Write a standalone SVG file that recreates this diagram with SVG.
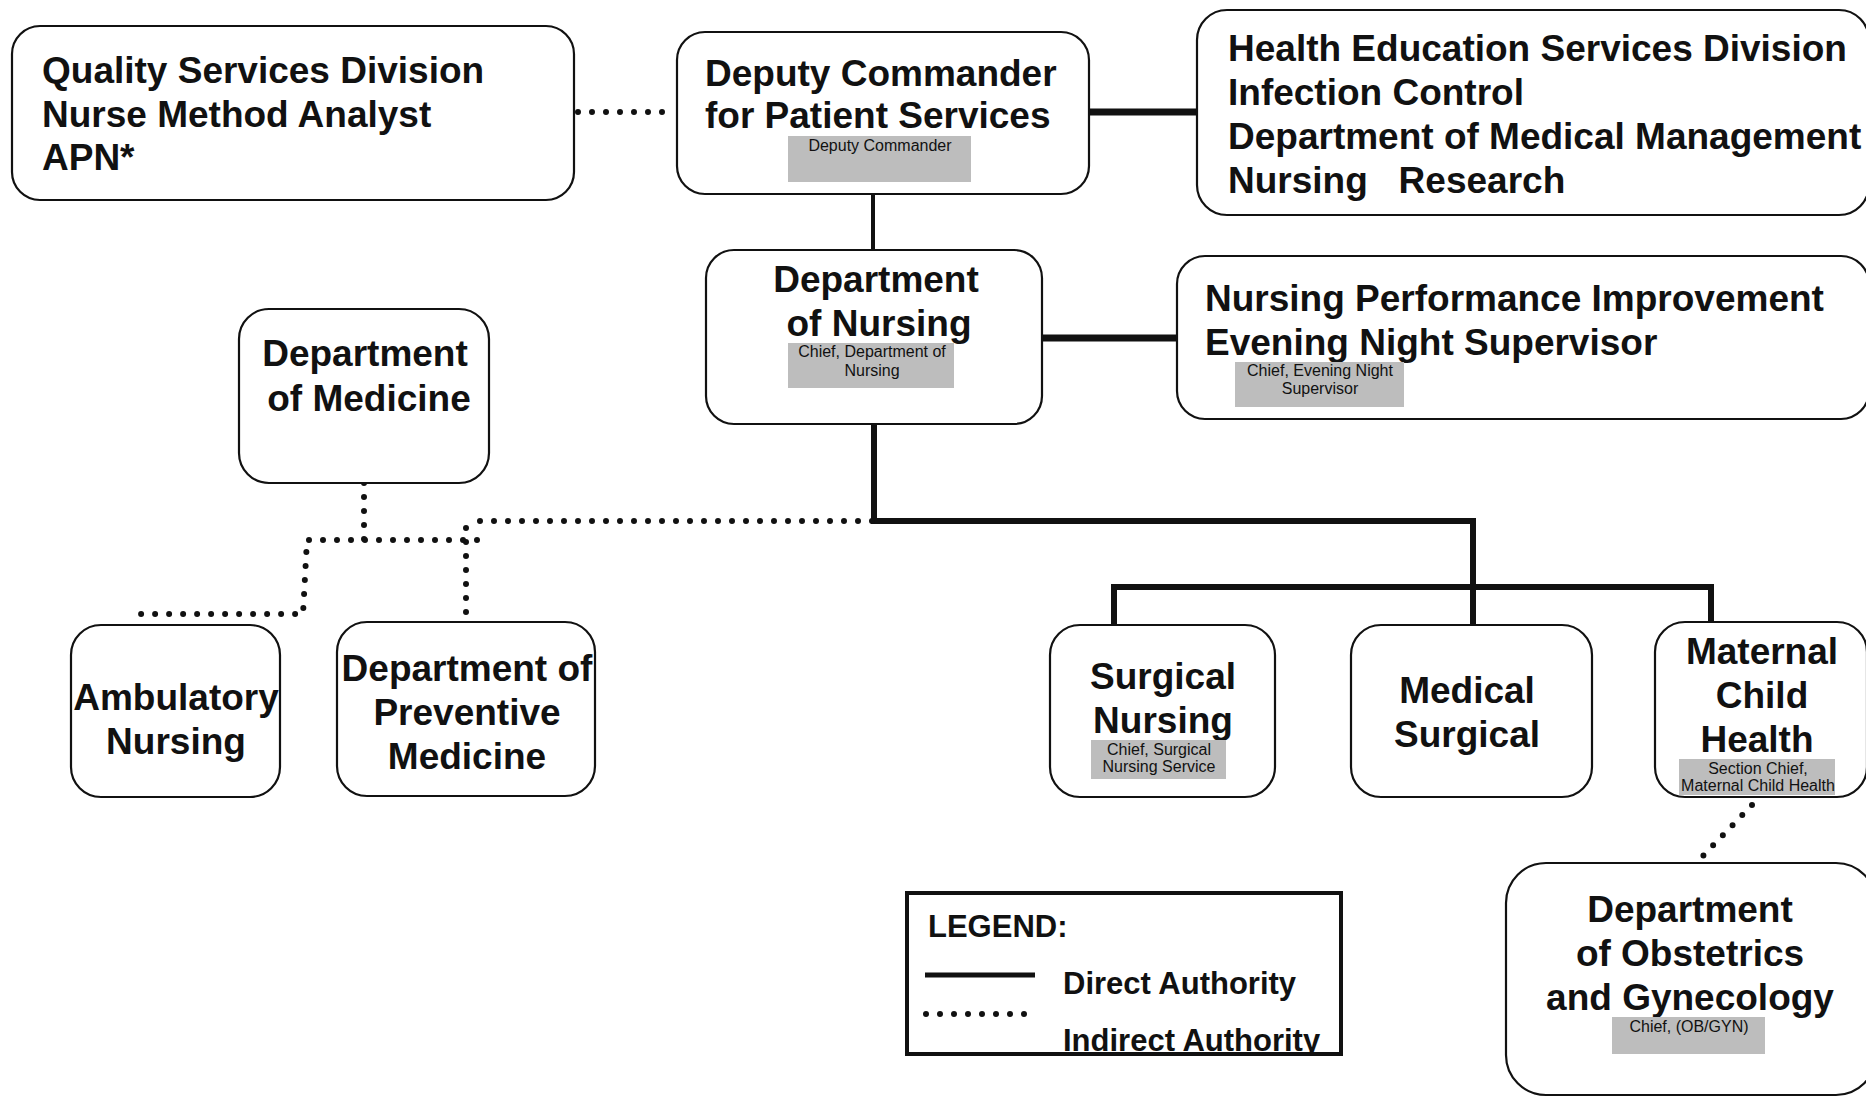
<svg xmlns="http://www.w3.org/2000/svg" width="1866" height="1098" viewBox="0 0 1866 1098">
<style>
  .box { fill: #ffffff; stroke: #111; stroke-width: 2.2; }
  .t { font-family: "Liberation Sans", Arial, sans-serif; font-weight: bold; font-size: 37px; fill: #111; }
  .c { text-anchor: middle; }
  .g { fill: #bdbdbd; }
  .s { font-family: "Liberation Sans", Arial, sans-serif; font-size: 16px; fill: #111; text-anchor: middle; }
  .solid { fill: none; stroke: #111; stroke-linecap: butt; stroke-linejoin: miter; }
  .dot { fill: none; stroke: #111; stroke-width: 6; stroke-linecap: round; stroke-dasharray: 0 14; }
  .lt { font-family: "Liberation Sans", Arial, sans-serif; font-weight: bold; font-size: 31px; fill: #111; }
</style>
<defs>
  <clipPath id="legclip"><rect x="907" y="893" width="434" height="159"/></clipPath>
</defs>
<rect width="1866" height="1098" fill="#ffffff"/>

<g id="connectors">
  <path class="solid" stroke-width="7" d="M1089 112 H1197"/>
  <path class="solid" stroke-width="4" d="M873 194 V250"/>
  <path class="solid" stroke-width="7" d="M1042 338 H1177"/>
  <path class="solid" stroke-width="6" d="M874 424 V521 H1473 V625"/>
  <path class="solid" stroke-width="6" d="M1114 625 V587 H1711 V622"/>
  <path class="dot" stroke-width="3.5" stroke-dasharray="0 7" d="M578 112 H675"/>
  <path class="dot" d="M872 521 H470"/>
  <path class="dot" d="M466 528 V622"/>
  <path class="dot" d="M364 483 V540"/>
  <path class="dot" d="M477 540 H307 L303 614 H137"/>
  <path class="dot" d="M1752 805 L1698 861"/>
</g>

<g id="quality">
  <rect class="box" x="12" y="26" width="562" height="174" rx="28"/>
  <text class="t" x="42" y="83">Quality Services Division</text>
  <text class="t" x="42" y="127">Nurse Method Analyst</text>
  <text class="t" x="42" y="170">APN*</text>
</g>

<g id="deputy">
  <rect class="box" x="677" y="32" width="412" height="162" rx="28"/>
  <text class="t" x="705" y="86">Deputy Commander</text>
  <text class="t" x="705" y="128">for Patient Services</text>
  <rect class="g" x="788" y="136" width="183" height="46"/>
  <text class="s" x="880" y="151" font-size="18">Deputy Commander</text>
</g>

<g id="health">
  <rect class="box" x="1197" y="10" width="672" height="205" rx="30"/>
  <text class="t" x="1228" y="61">Health Education Services Division</text>
  <text class="t" x="1228" y="105">Infection Control</text>
  <text class="t" x="1228" y="149">Department of Medical Management</text>
  <text class="t" x="1228" y="193" xml:space="preserve">Nursing   Research</text>
</g>

<g id="nursing">
  <rect class="box" x="706" y="250" width="336" height="174" rx="28"/>
  <text class="t c" x="876" y="292">Department</text>
  <text class="t c" x="879" y="336">of Nursing</text>
  <rect class="g" x="788" y="343" width="166" height="45"/>
  <text class="s" x="872" y="357">Chief, Department of</text>
  <text class="s" x="872" y="376">Nursing</text>
</g>

<g id="performance">
  <rect class="box" x="1177" y="256" width="692" height="163" rx="28"/>
  <text class="t" x="1205" y="311">Nursing Performance Improvement</text>
  <text class="t" x="1205" y="355">Evening Night Supervisor</text>
  <rect class="g" x="1235" y="362" width="169" height="45"/>
  <text class="s" x="1320" y="376">Chief, Evening Night</text>
  <text class="s" x="1320" y="394">Supervisor</text>
</g>

<g id="medicine">
  <rect class="box" x="239" y="309" width="250" height="174" rx="30"/>
  <text class="t c" x="365" y="366">Department</text>
  <text class="t c" x="369" y="411">of Medicine</text>
</g>

<g id="ambulatory">
  <rect class="box" x="71" y="625" width="209" height="172" rx="30"/>
  <text class="t c" x="176" y="710">Ambulatory</text>
  <text class="t c" x="176" y="754">Nursing</text>
</g>

<g id="preventive">
  <rect class="box" x="337" y="622" width="258" height="174" rx="30"/>
  <text class="t c" x="467" y="681">Department of</text>
  <text class="t c" x="467" y="725">Preventive</text>
  <text class="t c" x="467" y="769">Medicine</text>
</g>

<g id="surgical">
  <rect class="box" x="1050" y="625" width="225" height="172" rx="30"/>
  <text class="t c" x="1163" y="689">Surgical</text>
  <text class="t c" x="1163" y="733">Nursing</text>
  <rect class="g" x="1091" y="740" width="135" height="39"/>
  <text class="s" x="1159" y="755" font-size="15">Chief, Surgical</text>
  <text class="s" x="1159" y="772" font-size="15">Nursing Service</text>
</g>

<g id="medsurg">
  <rect class="box" x="1351" y="625" width="241" height="172" rx="30"/>
  <text class="t c" x="1467" y="703">Medical</text>
  <text class="t c" x="1467" y="747">Surgical</text>
</g>

<g id="mch">
  <rect class="box" x="1655" y="622" width="212" height="175" rx="30"/>
  <text class="t c" x="1762" y="664">Maternal</text>
  <text class="t c" x="1762" y="708">Child</text>
  <text class="t c" x="1757" y="752">Health</text>
  <rect class="g" x="1679" y="759" width="156" height="36"/>
  <text class="s" x="1758" y="774">Section Chief,</text>
  <text class="s" x="1758" y="791">Maternal Child Health</text>
</g>

<g id="obgyn">
  <rect class="box" x="1506" y="863" width="370" height="232" rx="40"/>
  <text class="t c" x="1690" y="922">Department</text>
  <text class="t c" x="1690" y="966">of Obstetrics</text>
  <text class="t c" x="1690" y="1010">and Gynecology</text>
  <rect class="g" x="1612" y="1017" width="153" height="37"/>
  <text class="s" x="1689" y="1032" font-size="18">Chief, (OB/GYN)</text>
</g>

<g id="legend">
  <g clip-path="url(#legclip)">
    <text class="lt" x="928" y="937">LEGEND:</text>
    <text class="lt" x="1063" y="994">Direct Authority</text>
    <text class="lt" x="1063" y="1051">Indirect Authority</text>
  </g>
  <path class="solid" stroke-width="5" d="M925 975 H1035"/>
  <path class="dot" stroke-width="4" stroke-dasharray="0 9.5" d="M926 1014 H1032"/>
  <rect x="907" y="893" width="434" height="161" fill="none" stroke="#111" stroke-width="4"/>
</g>
</svg>
